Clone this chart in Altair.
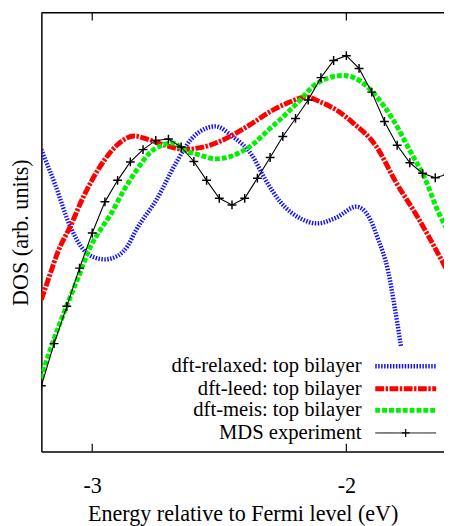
import altair as alt
import pandas as pd

# ---------------- data ----------------
MDS_E = [-3.20, -3.15, -3.10, -3.05, -3.00, -2.95, -2.90, -2.85, -2.80, -2.75, -2.70,
         -2.65, -2.60, -2.55, -2.50, -2.45, -2.40, -2.35, -2.30, -2.25, -2.20, -2.15,
         -2.10, -2.05, -2.00, -1.95, -1.90, -1.85, -1.80, -1.75, -1.70, -1.65, -1.60]
MDS_DOS = [0.150, 0.246, 0.331, 0.418, 0.498, 0.569, 0.618, 0.660, 0.688, 0.709, 0.712,
           0.694, 0.661, 0.618, 0.577, 0.562, 0.577, 0.623, 0.670, 0.718, 0.759, 0.801,
           0.852, 0.891, 0.902, 0.873, 0.819, 0.752, 0.698, 0.658, 0.634, 0.624, 0.632]

RELAXED_E = [-3.20, -3.145, -3.09, -3.04, -2.99, -2.95, -2.90, -2.86, -2.83, -2.745, -2.67,
             -2.61, -2.55, -2.515, -2.45, -2.37, -2.32, -2.26, -2.18, -2.115, -2.04, -1.96,
             -1.915, -1.875, -1.835, -1.81, -1.785]
RELAXED_DOS = [0.688, 0.607, 0.518, 0.464, 0.442, 0.438, 0.446, 0.469, 0.502, 0.576, 0.658,
               0.712, 0.737, 0.741, 0.719, 0.674, 0.621, 0.569, 0.531, 0.520, 0.533, 0.558,
               0.538, 0.484, 0.410, 0.330, 0.240]

LEED_E = [-3.20, -3.17, -3.133, -3.082, -3.044, -3.005, -2.951, -2.901, -2.835, -2.784,
          -2.719, -2.64, -2.579, -2.513, -2.448, -2.370, -2.293, -2.22, -2.16, -2.10,
          -2.036, -1.972, -1.883, -1.805, -1.716, -1.639, -1.604]
LEED_DOS = [0.346, 0.397, 0.458, 0.518, 0.569, 0.614, 0.665, 0.699, 0.719, 0.712,
            0.699, 0.689, 0.692, 0.703, 0.721, 0.748, 0.777, 0.797, 0.808, 0.796,
            0.777, 0.748, 0.696, 0.614, 0.531, 0.451, 0.413]

MEIS_E = [-3.202, -3.160, -3.106, -3.055, -3.005, -2.966, -2.928, -2.873, -2.823, -2.773,
          -2.719, -2.680, -2.641, -2.579, -2.513, -2.448, -2.370, -2.308, -2.243, -2.177,
          -2.139, -2.077, -2.011, -1.945, -1.883, -1.817, -1.752, -1.690, -1.639, -1.604]
MEIS_DOS = [0.167, 0.241, 0.324, 0.397, 0.469, 0.507, 0.540, 0.598, 0.643, 0.681,
            0.699, 0.703, 0.688, 0.676, 0.667, 0.674, 0.699, 0.732, 0.766, 0.804,
            0.828, 0.850, 0.857, 0.844, 0.810, 0.757, 0.688, 0.621, 0.547, 0.507]

SERIES = ["dft-relaxed: top bilayer", "dft-leed: top bilayer",
          "dft-meis: top bilayer", "MDS experiment"]
TICKS = [-3, -2]

# ---------------- styling ----------------
FONT = "Liberation Serif, Times New Roman, serif"
FS = 22.5
LFS = 21
W, H = 410, 447
COLORS = ["#1010ff", "#ff0000", "#00f000", "#000000"]
DASHES = [[1.5, 1.5], [9, 1.5, 2.5, 1.5], [5, 2], [1, 0]]
WIDTHS = [4.5, 5, 5, 1]
PLUS = "M-1,0L1,0M0,-1L0,1"

x_scale = alt.Scale(domain=[-3.2, -1.6157], nice=False, zero=False)
y_scale = alt.Scale(domain=[0, 1], nice=False, zero=False)
x_axis = alt.Axis(values=TICKS, labelExpr="'' + datum.value", ticks=False, grid=False,
                  domain=True, domainColor="black", domainWidth=1.5,
                  labelFont=FONT, labelFontSize=FS, labelColor="black", labelPadding=24,
                  title="Energy relative to Fermi level (eV)", titleFont=FONT,
                  titleFontSize=FS, titleFontWeight="normal", titleColor="black",
                  titlePadding=6)
y_axis = alt.Axis(ticks=False, labels=False, grid=False, domain=True,
                  domainColor="black", domainWidth=1.5,
                  title="DOS (arb. units)", titleFont=FONT, titleFontSize=FS,
                  titleFontWeight="normal", titleColor="black", titlePadding=9)


def xenc(field="E"):
    return alt.X(f"{field}:Q", scale=x_scale, axis=x_axis)


def yenc():
    return alt.Y("DOS:Q", scale=y_scale, axis=y_axis)


def curve(E, V, i):
    df = pd.DataFrame({"E": E, "DOS": V})
    return alt.Chart(df).mark_line(
        color=COLORS[i], strokeDash=DASHES[i], strokeWidth=WIDTHS[i],
        interpolate="monotone", clip=True
    ).encode(x=xenc(), y=yenc())


layers = [
    curve(RELAXED_E, RELAXED_DOS, 0),
    curve(LEED_E, LEED_DOS, 1),
    curve(MEIS_E, MEIS_DOS, 2),
]
mds_df = pd.DataFrame({"E": MDS_E, "DOS": MDS_DOS})
layers.append(alt.Chart(mds_df).mark_line(color="black", strokeWidth=1.1, clip=True)
              .encode(x=xenc(), y=yenc()))
layers.append(alt.Chart(mds_df).mark_point(shape=PLUS, size=81, filled=False,
                                            stroke="black", strokeWidth=1.5, opacity=1,
                                            clip=True)
              .encode(x=xenc(), y=yenc()))

# frame: top border and inward ticks
tick_df = pd.DataFrame({"E": TICKS})
layers.append(alt.Chart(pd.DataFrame({"a": [0]})).mark_rule(color="black", strokeWidth=1.5)
              .encode(x=alt.value(0), x2=alt.value(W), y=alt.value(0)))
layers.append(alt.Chart(tick_df).mark_rule(color="black", strokeWidth=1.2)
              .encode(x=xenc(), y=alt.value(0), y2=alt.value(8)))
layers.append(alt.Chart(tick_df).mark_rule(color="black", strokeWidth=1.2)
              .encode(x=xenc(), y=alt.value(H), y2=alt.value(H - 8)))

# legend (labels left, samples right, as in the reference)
LEG_Y = [360, 383, 405, 428]
for i, name in enumerate(SERIES):
    layers.append(alt.Chart(pd.DataFrame({"label": [name]})).mark_text(
        align="right", baseline="middle", font=FONT, fontSize=LFS, color="black"
    ).encode(text="label:N", x=alt.value(326), y=alt.value(LEG_Y[i])))
    layers.append(alt.Chart(pd.DataFrame({"label": [name]})).mark_rule(
        color=COLORS[i], strokeDash=DASHES[i], strokeWidth=WIDTHS[i]
    ).encode(x=alt.value(340), x2=alt.value(402), y=alt.value(LEG_Y[i])))
layers.append(alt.Chart(pd.DataFrame({"label": [SERIES[3]]})).mark_point(
    shape=PLUS, size=64, filled=False, stroke="black", strokeWidth=1.2, opacity=1
).encode(x=alt.value(371), y=alt.value(LEG_Y[3])))

chart = alt.layer(*layers).properties(
    width=W, height=H,
    autosize=alt.AutoSizeParams(type="none"),
    padding={"left": 34, "top": 0, "right": 0, "bottom": 71},
).configure_view(stroke=None)

chart.save("out.html", embed_options={"renderer": "svg", "actions": False})
